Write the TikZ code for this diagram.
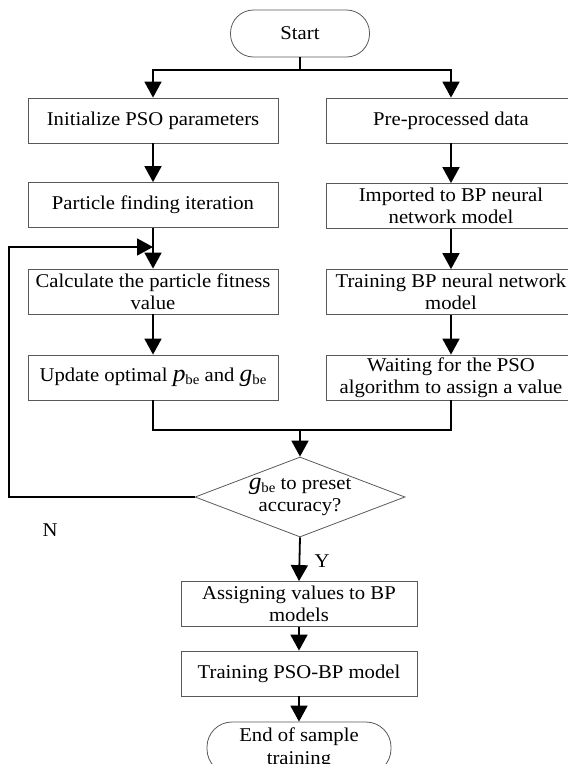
\documentclass[tikz,border=0pt]{standalone}
\usepackage{fontspec}
\setmainfont{Liberation Serif}[FakeStretch=1.06]
\usetikzlibrary{arrows.meta,shapes.geometric}
\newcommand\fsz{\fontsize{19.5}{22.5}\selectfont}
\newcommand\varsub[2]{{\fontsize{24}{22}\selectfont\itshape #1}\raisebox{-3pt}{\fontsize{14}{14}\selectfont #2}}
\begin{document}
\begin{tikzpicture}[x=1pt,y=-1pt,
  box/.style={draw=black!65, line width=0.8pt, minimum width=250pt, minimum height=45pt, inner sep=0pt, align=center, font=\fsz},
  smallbox/.style={box, minimum width=236pt},
  term/.style={draw=black!65, line width=0.8pt, rounded corners=23pt, inner sep=0pt, align=center, font=\fsz},
  conn/.style={line width=1.8pt, black},
  arr/.style={conn, -{Triangle[length=16pt,width=17pt]}},
  lbl/.style={font=\fsz, inner sep=0pt}
]
\useasboundingbox (0,0) rectangle (568,764);
% terminals
\node[term, minimum width=139pt, minimum height=47pt] (start) at (300,33.5) {Start};
% left column
\node[box] (L1) at (153,120.5) {Initialize PSO parameters};
\node[box] (L2) at (153,205) {Particle finding iteration};
\node[box] (L3) at (153,291.5) {Calculate the particle fitness\\value};
\node[box] (L4) at (153,377.5) {Update optimal \varsub{p}{be} and \varsub{g}{be}};
% right column
\node[box] (R1) at (451,120.5) {Pre-processed data};
\node[box] (R2) at (451,206) {Imported to BP neural\\network model};
\node[box] (R3) at (451,292) {Training BP neural network\\model};
\node[box] (R4) at (451,377.5) {Waiting for the PSO\\algorithm to assign a value};
% decision
\node[diamond, draw=black!65, line width=0.8pt, minimum width=210pt, minimum height=80pt, inner sep=0pt] (dia) at (300,497) {};
\node[lbl, align=center] (diatext) at (300,497) {\varsub{g}{be} to preset\\accuracy?};
% bottom
\node[smallbox] (A1) at (299,604) {Assigning values to BP\\models};
\node[smallbox] (A2) at (299,673.5) {Training PSO-BP model};
\node[term, minimum width=184pt, minimum height=52pt, rounded corners=25pt] (endn) at (299,748) {End of sample\\training};
% labels
\node[lbl] (N) at (50,530) {N};
\node[lbl] (Y) at (322,561) {Y};
% coordinates
\coordinate (split) at (300,70);
\coordinate (join) at (300,430);
\coordinate (lj) at (153,247);
\coordinate (lc) at (9,247);
% connectors
\draw[conn] (start.south) -- (split);
\draw[arr] (split) -| (L1.north);
\draw[arr] (split) -| (R1.north);
\draw[arr] (L1) -- (L2);
\draw[arr] (L2) -- (L3);
\draw[arr] (L3) -- (L4);
\draw[arr] (R1) -- (R2);
\draw[arr] (R2) -- (R3);
\draw[arr] (R3) -- (R4);
\draw[conn] (L4.south) |- (join) -| (R4.south);
\draw[arr] (join) -- (dia.north);
\draw[arr] (dia.west) -| (lc) -- (lj);
\draw[arr] (dia.south) -- (A1.north);
\draw[arr] (A1) -- (A2);
\draw[arr] (A2) -- (endn);
\end{tikzpicture}
\end{document}
